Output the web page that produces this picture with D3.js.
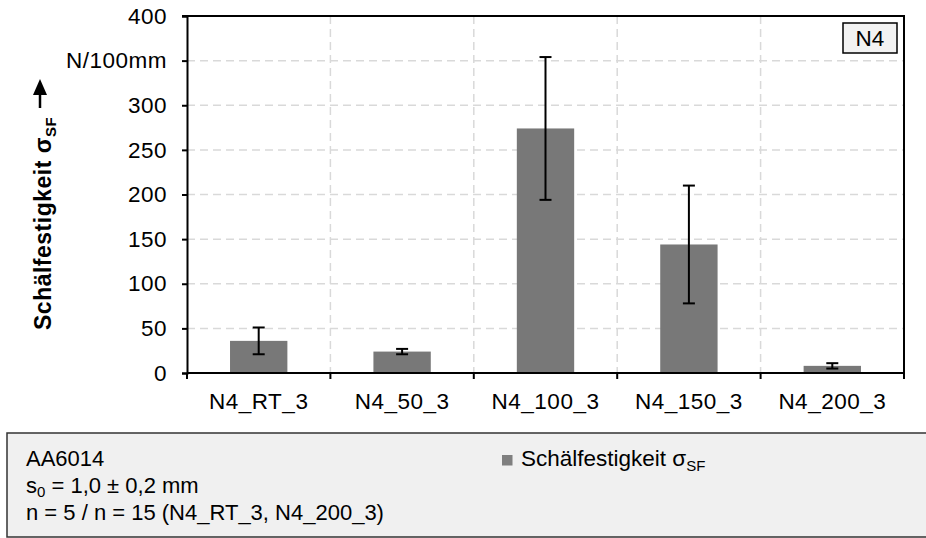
<!DOCTYPE html>
<html>
<head>
<meta charset="utf-8">
<script src="https://cdn.jsdelivr.net/npm/d3@7/dist/d3.min.js"></script>
<style>
  html, body { margin: 0; padding: 0; background: #ffffff; }
  svg { display: block; font-family: "Liberation Sans", Arial, sans-serif; }
</style>
</head>
<body>
<div id="chart"></div>
<script>
// Peel strength per test condition (mean and standard deviation)
const categories = ["N4_RT_3", "N4_50_3", "N4_100_3", "N4_150_3", "N4_200_3"];
const meanValues = [36, 24, 274, 144, 8];
const stdDev = [15, 3, 80, 66, 3];
const yTicks = [0, 50, 100, 150, 200, 250, 300, 350, 400];
const yTickLabels = ["0", "50", "100", "150", "200", "250", "300", "N/100mm", "400"];

const W = 926, H = 538;
const m = { left: 187, right: 904, top: 16, bottom: 373 };
const FS = 22.5;      // axis font size
const LS = 0.5;       // axis letter spacing

const svg = d3.select("#chart").append("svg")
  .attr("width", W).attr("height", H);

const x = d3.scaleBand()
  .domain(categories)
  .range([m.left, m.right])
  .paddingInner(0.6)
  .paddingOuter(0.3);

const y = d3.scaleLinear()
  .domain([0, 400])
  .range([m.bottom, m.top]);

const step = x.step();
const gridColor = "#d9d9d9";

// horizontal dashed grid
svg.append("g")
  .selectAll("line")
  .data(yTicks.filter(v => v > 0 && v < 400))
  .join("line")
  .attr("x1", m.left).attr("x2", m.right)
  .attr("y1", d => y(d)).attr("y2", d => y(d))
  .attr("stroke", gridColor).attr("stroke-width", 1.5)
  .attr("stroke-dasharray", "8,5");

// vertical dashed grid at category boundaries
svg.append("g")
  .selectAll("line")
  .data(categories.slice(1))
  .join("line")
  .attr("x1", d => x(d) - x.paddingInner() * step / 2)
  .attr("x2", d => x(d) - x.paddingInner() * step / 2)
  .attr("y1", m.top).attr("y2", m.bottom)
  .attr("stroke", gridColor).attr("stroke-width", 1.5)
  .attr("stroke-dasharray", "8,5");

// bars
svg.append("g")
  .selectAll("rect")
  .data(categories)
  .join("rect")
  .attr("x", d => x(d))
  .attr("width", x.bandwidth())
  .attr("y", (d, i) => y(meanValues[i]))
  .attr("height", (d, i) => y(0) - y(meanValues[i]))
  .attr("fill", "#787878");

// error bars
const eb = svg.append("g").attr("stroke", "#000").attr("stroke-width", 2);
categories.forEach((c, i) => {
  const cx = x(c) + x.bandwidth() / 2;
  const hi = y(meanValues[i] + stdDev[i]);
  const lo = y(Math.max(0, meanValues[i] - stdDev[i]));
  eb.append("line").attr("x1", cx).attr("x2", cx).attr("y1", hi).attr("y2", lo);
  eb.append("line").attr("x1", cx - 6).attr("x2", cx + 6).attr("y1", hi).attr("y2", hi);
  eb.append("line").attr("x1", cx - 6).attr("x2", cx + 6).attr("y1", lo).attr("y2", lo);
});

// y axis
const yAxis = d3.axisLeft(y)
  .tickValues(yTicks)
  .tickSize(5)
  .tickPadding(15)
  .tickFormat((d, i) => yTickLabels[i]);
const gy = svg.append("g")
  .attr("transform", `translate(${m.left},0)`)
  .call(yAxis);
gy.select(".domain").attr("stroke", "#000").attr("stroke-width", 2);
gy.selectAll(".tick line").attr("stroke", "#000").attr("stroke-width", 2);
gy.selectAll(".tick text")
  .attr("font-size", FS).attr("fill", "#000")
  .attr("letter-spacing", LS)
  .attr("font-family", "'Liberation Sans', Arial, sans-serif");

// x axis with ticks at category boundaries
const xBounds = d3.range(categories.length + 1).map(i => m.left + i * step);
const gx = svg.append("g");
gx.append("line")
  .attr("x1", m.left).attr("x2", m.right)
  .attr("y1", m.bottom).attr("y2", m.bottom)
  .attr("stroke", "#000").attr("stroke-width", 2);
gx.selectAll("line.tk")
  .data(xBounds)
  .join("line").attr("class", "tk")
  .attr("x1", d => d).attr("x2", d => d)
  .attr("y1", m.bottom).attr("y2", m.bottom + 6)
  .attr("stroke", "#000").attr("stroke-width", 2);
gx.selectAll("text")
  .data(categories)
  .join("text")
  .attr("x", d => x(d) + x.bandwidth() / 2)
  .attr("y", 409)
  .attr("text-anchor", "middle")
  .attr("font-size", FS)
  .attr("letter-spacing", LS)
  .attr("fill", "#000")
  .text(d => d);

// plot frame top and right
svg.append("line")
  .attr("x1", m.left - 5).attr("x2", m.right + 1)
  .attr("y1", m.top).attr("y2", m.top)
  .attr("stroke", "#000").attr("stroke-width", 2);
svg.append("line")
  .attr("x1", m.right).attr("x2", m.right)
  .attr("y1", m.top).attr("y2", m.bottom + 6)
  .attr("stroke", "#000").attr("stroke-width", 2);

// N4 label box
svg.append("rect")
  .attr("x", 843).attr("y", 23).attr("width", 54).attr("height", 30)
  .attr("fill", "#f2f2f2").attr("stroke", "#000").attr("stroke-width", 1.5);
svg.append("text")
  .attr("x", 870).attr("y", 46)
  .attr("text-anchor", "middle")
  .attr("font-size", FS).attr("fill", "#000")
  .text("N4");

// y axis title
const yt = svg.append("text")
  .attr("transform", "translate(51,330) rotate(-90)")
  .attr("font-size", 23).attr("font-weight", "bold").attr("fill", "#000")
  .attr("letter-spacing", 0.5);
yt.append("tspan").text("Schälfestigkeit σ");
yt.append("tspan").attr("font-size", 15).attr("dy", 5).text("SF");

// arrow above the title
svg.append("line")
  .attr("x1", 40).attr("x2", 40).attr("y1", 108).attr("y2", 92)
  .attr("stroke", "#000").attr("stroke-width", 2.5);
svg.append("path")
  .attr("d", "M33,95 L47,95 L40,79 Z")
  .attr("fill", "#000");

// info / legend box
svg.append("rect")
  .attr("x", 7).attr("y", 433).attr("width", 930).attr("height", 104)
  .attr("fill", "#f0f0f0").attr("stroke", "#333").attr("stroke-width", 1.5);

const info = svg.append("g").attr("font-size", 22).attr("fill", "#000");
info.append("text").attr("x", 26).attr("y", 466).text("AA6014");
const s0 = info.append("text").attr("x", 26).attr("y", 493);
s0.append("tspan").text("s");
s0.append("tspan").attr("font-size", 15).attr("dy", 4).text("0");
s0.append("tspan").attr("dy", -4).text(" = 1,0 ± 0,2 mm");
info.append("text").attr("x", 26).attr("y", 520).text("n = 5 / n = 15 (N4_RT_3, N4_200_3)");

// series legend
svg.append("rect")
  .attr("x", 502).attr("y", 455).attr("width", 10.5).attr("height", 10.5)
  .attr("fill", "#7f7f7f");
const lg = svg.append("text").attr("x", 521).attr("y", 466)
  .attr("font-size", 22.5).attr("fill", "#000");
lg.append("tspan").text("Schälfestigkeit σ");
lg.append("tspan").attr("font-size", 15).attr("dy", 5).text("SF");
</script>
</body>
</html>
